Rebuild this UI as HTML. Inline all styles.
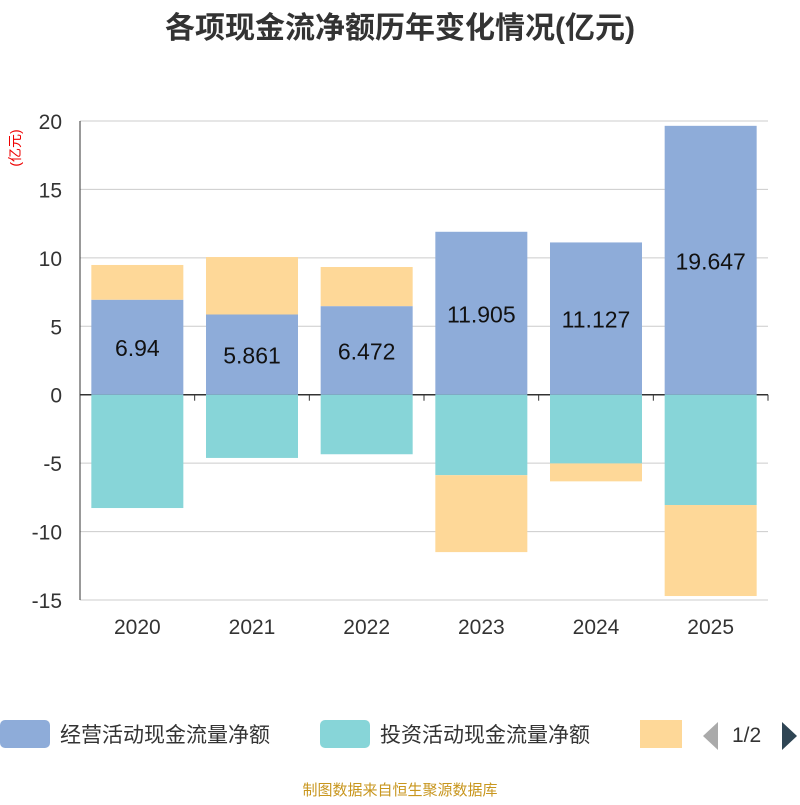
<!DOCTYPE html>
<html><head><meta charset="utf-8"><style>
body{margin:0;background:#fff;font-family:"Liberation Sans","Noto Sans CJK SC",sans-serif;}
</style></head><body>
<svg id="c" width="800" height="800" xmlns="http://www.w3.org/2000/svg">
<text x="400" y="38" text-anchor="middle" font-size="30" font-weight="bold" fill="#333">各项现金流净额历年变化情况(亿元)</text>
<text x="20" y="148" font-size="14" fill="#e00" transform="rotate(-90 20 148)" text-anchor="middle">(亿元)</text>
<g id="grid"></g><g id="bars"></g><g id="axes"></g>
<g>
<rect x="0" y="720" width="50" height="28" rx="5" fill="#8eacd9"/>
<text x="60" y="742" font-size="21" fill="#333">经营活动现金流量净额</text>
<rect x="320" y="720" width="50" height="28" rx="5" fill="#87d5d8"/>
<text x="380" y="742" font-size="21" fill="#333">投资活动现金流量净额</text>
<rect x="640" y="720" width="42" height="28" fill="#fed898"/>
<polygon points="718,722 718,750 703,736" fill="#aaa"/>
<text x="732" y="742" font-size="21" fill="#333">1/2</text>
<polygon points="782,722 782,750 797,736" fill="#2f4554"/>
</g>
<text x="400" y="795" text-anchor="middle" font-size="15" fill="#c8961e">制图数据来自恒生聚源数据库</text>
</svg>
<script>
const categories=["2020","2021","2022","2023","2024","2025"];
const operating=[6.94,5.861,6.472,11.905,11.127,19.647];
const investing=[-8.28,-4.62,-4.35,-5.88,-5.02,-8.06];
const financing=[2.54,4.2,2.86,-5.62,-1.31,-6.65];
const yTicks=[20,15,10,5,0,-5,-10,-15];
const NS="http://www.w3.org/2000/svg";
const L=80,R=768,T=121,B=600,ymax=20,ymin=-15;
const y=v=>T+(ymax-v)/(ymax-ymin)*(B-T);
const bw=(R-L)/categories.length;
const x=i=>L+bw*i+bw/2;
function mk(tag,attrs,parent,txt){const e=document.createElementNS(NS,tag);for(const k in attrs)e.setAttribute(k,attrs[k]);if(txt!=null)e.textContent=txt;document.getElementById(parent).appendChild(e);return e;}
yTicks.forEach(t=>{
 const g=mk('line',{x1:L,x2:R,y1:y(t),y2:y(t),stroke:t===0?'#333':'#ccc','stroke-width':t===0?1.5:1},'grid');
 
 
 const tx=mk('text',{x:62,y:y(t)+8,'text-anchor':'end','font-size':21,fill:'#333'},'axes',t);
 
 
});
const ax=mk('line',{x1:L,x2:L,y1:T,y2:B,stroke:'#333'},'axes');


categories.forEach((c,i)=>{
 const w=92,x0=x(i)-w/2;
 let pos=0,neg=0;
 const seg=(v,col,name)=>{
  let a,b;
  if(v>=0){a=pos;b=pos+v;pos=b;}else{a=neg;b=neg+v;neg=b;}
  const r=mk('rect',{x:x0,y:Math.min(y(a),y(b)),width:w,height:Math.abs(y(a)-y(b)),fill:col},'bars');
  
  
 };
 seg(operating[i],'#8eacd9','operating');
 seg(investing[i],'#87d5d8','investing');
 seg(financing[i],'#fed898','financing');
 const lb=mk('text',{x:x(i),y:y(operating[i]/2)+9,'text-anchor':'middle','font-size':23,fill:'#111'},'bars',operating[i]);
 
 
 const tk=mk('line',{x1:L+bw*(i+1),x2:L+bw*(i+1),y1:y(0),y2:y(0)+6,stroke:'#333'},'axes');
 
 
 const xl=mk('text',{x:x(i),y:634,'text-anchor':'middle','font-size':21,fill:'#333'},'axes',c);
 
 
});
</script>
</body></html>
